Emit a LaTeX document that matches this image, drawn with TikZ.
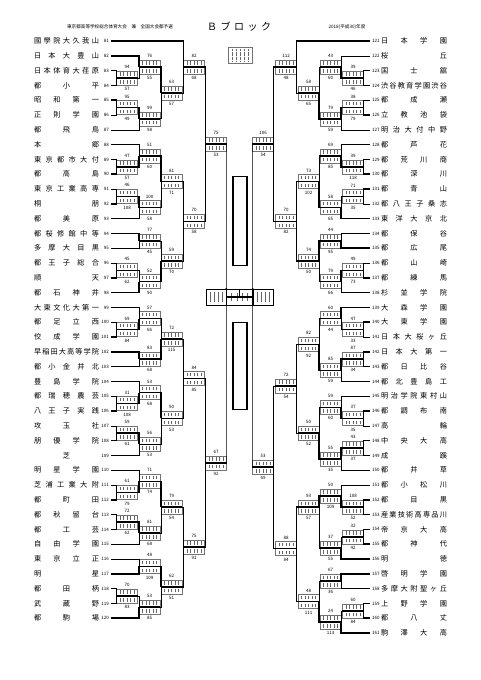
\documentclass[tikz,border=0pt]{standalone}
\usepackage{fontspec}
\setmainfont{Noto Sans CJK JP}
\usetikzlibrary{positioning,calc}

\makeatletter
\def\spreadname#1{\spr@#1\@nil}
\def\spr@#1#2\@nil{#1\ifx\relax#2\relax\else\hfil\spr@#2\@nil\fi}
\makeatother

\tikzset{
  team/.style={font=\fontsize{7.2}{8}\selectfont, inner sep=0pt},
  tnum/.style={font=\fontsize{4.5}{5}\selectfont, inner sep=0pt},
  score/.style={font=\fontsize{4.5}{5}\selectfont, inner sep=0pt},
  gbox/.style={draw=black!55, line width=.3pt, minimum width=21pt, minimum height=14pt, inner sep=0pt},
  tick/.style={black!60, line width=.3pt},
  lose/.style={line width=.5pt},
  win/.style={line width=1.6pt},
  ttl/.style={font=\fontsize{4.6}{5}\selectfont, inner sep=0pt},
  namebox/.style={draw, line width=1.1pt, minimum width=14pt, inner sep=0pt},
}

% one game: name, x, row, upper score, lower score
\newcommand{\game}[5]{%
  \node[gbox] (#1) at (#2,#3) {};
  \foreach \k in {1,...,5}{
    \draw[tick] ([xshift=\k*3.5pt, yshift=-1.5pt]#1.north west) -- ++(0,-3.5pt);
    \draw[tick] ([xshift=\k*3.5pt, yshift=1.5pt]#1.south west) -- ++(0,3.5pt);
  }
  \node[score, above=2pt of #1] (#1t) {#4};
  \node[score, below=2pt of #1] (#1b) {#5};
  \draw[win] (#1.west) -- (#1.east);
}

\begin{document}
\begin{tikzpicture}[x=1pt, y=-14.8pt]
  \useasboundingbox (0,-2.7703) rectangle (481,43.1757);

  % heading
  \node[ttl] (head) at (120,-0.95) {東京都高等学校総合体育大会　兼　全国大会都予選};
  \node[font=\fontsize{10}{10}\selectfont, inner sep=0pt] (block) at (239,-0.95)
    {\makebox[64pt][s]{Ｂ\hfil ブ\hfil ロ\hfil ッ\hfil ク}};
  \node[ttl] (year) at (347,-0.95) {2018(平成30)年度};

  % left teams
  \foreach \nm [count=\i from 0, evaluate=\i as \no using int(81+\i)] in {
    國學院大久我山,日本大豊山,日本体育大荏原,都小平,昭和第一,正則学園,都飛鳥,本郷,
    東京都市大付,都高島,東京工業高専,桐朋,都美原,都桜修館中等,多摩大目黒,都王子総合,
    順天,都石神井,大東文化大第一,都足立西,佼成学園,早稲田大高等学院,都小金井北,豊島学院,
    都瑞穂農芸,八王子実践,攻玉社,朋優学院,\hfil 芝\hfil,明星学園,芝浦工業大附,都町田,
    都秋留台,都工芸,自由学園,東京立正,明星,都田柄,武蔵野,都駒場}{
    \node[team] (n\no) at (66.5,\i) {\makebox[65pt][s]{\expandafter\spreadname\expandafter{\nm}}};
    \node[tnum, anchor=east] (k\no) at (109,\i) {\no};
    \coordinate (t\no) at (111,\i);
  }

  % right teams
  \foreach \nm [count=\i from 0, evaluate=\i as \no using int(121+\i)] in {
    日本学園,桜丘,国士舘,渋谷教育学園渋谷,都成瀬,立教池袋,明治大付中野,都芦花,
    都荒川商,都深川,都青山,都八王子桑志,東洋大京北,都保谷,都広尾,都山崎,
    都練馬,杉並学院,大森学園,大東学園,日本大桜ヶ丘,日本大第一,都日比谷,都北豊島工,
    明治学院東村山,都調布南,高輪,中央大高,成蹊,都井草,都小松川,都目黒,
    産業技術高専品川,帝京大高,都神代,明徳,啓明学園,多摩大附聖ヶ丘,上野学園,都八丈,駒澤大高}{
    \node[team] (n\no) at (414,\i) {\makebox[66pt][s]{\expandafter\spreadname\expandafter{\nm}}};
    \node[tnum, anchor=west] (k\no) at (372,\i) {\no};
    \coordinate (t\no) at (370,\i);
  }

  % left games
  \foreach \g/\x/\r/\u/\d in {
      gA/127/2.5/94/57, gB/149.5/1.75/76/55, gC/127/4.5/95/49, gD/149.5/5.25/99/98,
      gE/171.5/3.5/63/57, gF/194/1.75/82/68, gG/127/8.5/47/57, gH/149.5/7.75/51/60,
      gI/127/10.5/46/108, gJ/149.5/11.25/100/58, gK/171.5/9.5/81/71, gN/149.5/13.5/77/45,
      gO/127/15.5/45/62, gP/149.5/16.25/52/90, gQ/171.5/14.875/59/70, gL/194/12.1875/70/58,
      gM/216/6.96875/75/53,
      g1/127/19.5/69/84, g2/149.5/18.75/57/66, g3/149.5/21.5/83/68, g4/171.5/20.125/72/115,
      g5/127/24.5/31/108, g6/149.5/23.75/53/68, g7/127/26.5/59/61, g8/149.5/27.25/56/53,
      g9/171.5/25.5/90/53, g10/194/22.8125/84/85, g12/127/30.5/61/79, g11/149.5/29.75/71/74,
      g13/127/32.5/72/62, g14/149.5/33.25/81/68, g15/171.5/31.5/79/54, g16/149.5/35.5/48/109,
      g17/127/37.5/70/83, g18/149.5/38.25/53/85, g19/171.5/36.875/62/51, g20/194/34.1875/75/91,
      g21/216/28.5/67/92}
    \game{\g}{\x}{\r}{\u}{\d};

  \foreach \a/\b/\s in {t83/gA/win, t84/gA/lose, t82/gB/win, gA.east/gB/lose,
      t85/gC/win, t86/gC/lose, gC.east/gD/win, t87/gD/lose, gB.east/gE/win, gD.east/gE/lose,
      t81/gF/win, gE.east/gF/lose, t89/gG/lose, t90/gG/win, t88/gH/lose, gG.east/gH/win,
      t91/gI/lose, t92/gI/win, gI.east/gJ/win, t93/gJ/lose, gH.east/gK/win, gJ.east/gK/lose,
      t94/gN/win, t95/gN/lose, t96/gO/lose, t97/gO/win, gO.east/gP/lose, t98/gP/win,
      gN.east/gQ/lose, gP.east/gQ/win, gK.east/gL/win, gQ.east/gL/lose,
      gF.east/gM/win, gL.east/gM/lose,
      t100/g1/lose, t101/g1/win, t99/g2/lose, g1.east/g2/win, t102/g3/win, t103/g3/lose,
      g2.east/g4/lose, g3.east/g4/win, t105/g5/lose, t106/g5/win, t104/g6/lose, g5.east/g6/win,
      t107/g7/lose, t108/g7/win, g7.east/g8/win, t109/g8/lose, g6.east/g9/win, g8.east/g9/lose,
      g4.east/g10/lose, g9.east/g10/win, t111/g12/lose, t112/g12/win, t110/g11/lose, g12.east/g11/win,
      t113/g13/win, t114/g13/lose, g13.east/g14/win, t115/g14/lose, g11.east/g15/win, g14.east/g15/lose,
      t116/g16/lose, t117/g16/win, t118/g17/lose, t119/g17/win, g17.east/g18/lose, t120/g18/win,
      g16.east/g19/win, g18.east/g19/lose, g15.east/g20/lose, g19.east/g20/win,
      g10.east/g21/lose, g20.east/g21/win}
    \draw[\s] (\a) -| (\b.west);

  % right games
  \foreach \g/\x/\r/\u/\d in {
      hA/353/2.5/39/46, hB/330.5/1.75/43/60, hC/353/4.5/38/79, hD/330.5/5.25/79/59,
      hE/308.5/3.5/58/65, hF/286/1.75/112/48, hG/353/8.5/39/118, hH/330.5/7.75/69/85,
      hI/353/10.5/71/35, hJ/330.5/11.25/58/65, hK/308.5/9.5/73/102, hN/330.5/13.5/44/95,
      hO/353/15.5/49/73, hP/330.5/16.25/79/66, hQ/308.5/14.875/74/50, hL/286/12.1875/70/82,
      hM/263/6.96875/106/54,
      h1/353/19.5/47/33, h2/330.5/18.75/60/44, h3/353/21.5/87/34, h4/330.5/22.25/85/59,
      h5/308.5/20.5/82/92, h6/353/25.5/37/35, h7/330.5/24.75/59/60, h8/353/27.5/43/37,
      h9/330.5/28.25/55/35, h10/308.5/26.5/50/52, h11/286/23.3/72/54, h12/353/31.5/108/52,
      h13/330.5/30.75/50/109, h14/353/33.5/32/42, h15/330.5/34.25/37/55, h16/308.5/31.5/93/57,
      h17/330.5/36.5/67/36, h18/353/38.5/60/84, h19/330.5/39.25/24/113, h20/308.5/37.875/48/111,
      h21/286/34.3/88/84, h22/263/28.8/53/69}
    \game{\g}{\x}{\r}{\u}{\d};

  \foreach \a/\b/\s in {t123/hA/lose, t124/hA/win, t122/hB/lose, hA.west/hB/win,
      t125/hC/lose, t126/hC/win, hC.west/hD/win, t127/hD/lose, hB.west/hE/lose, hD.west/hE/win,
      t121/hF/win, hE.west/hF/lose, t129/hG/lose, t130/hG/win, t128/hH/lose, hG.west/hH/win,
      t131/hI/win, t132/hI/lose, hI.west/hJ/lose, t133/hJ/win, hH.west/hK/lose, hJ.west/hK/win,
      t134/hN/lose, t135/hN/win, t136/hO/lose, t137/hO/win, hO.west/hP/win, t138/hP/lose,
      hN.west/hQ/win, hP.west/hQ/lose, hK.west/hL/lose, hQ.west/hL/win,
      hF.west/hM/win, hL.west/hM/lose,
      t140/h1/win, t141/h1/lose, t139/h2/win, h1.west/h2/lose, t142/h3/win, t143/h3/lose,
      h3.west/h4/win, t144/h4/lose, h2.west/h5/lose, h4.west/h5/win,
      t146/h6/win, t147/h6/lose, t145/h7/lose, h6.west/h7/win, t148/h8/win, t149/h8/lose,
      h8.west/h9/win, t150/h9/lose, h7.west/h10/lose, h9.west/h10/win,
      h5.west/h11/win, h10.west/h11/lose,
      t152/h12/win, t153/h12/lose, t151/h13/lose, h12.west/h13/win,
      t154/h14/lose, t155/h14/win, h14.west/h15/lose, t156/h15/win,
      h13.west/h16/win, h15.west/h16/lose, t157/h17/win, t158/h17/lose,
      t159/h18/lose, t160/h18/win, h18.west/h19/lose, t161/h19/win,
      h17.west/h20/lose, h19.west/h20/win, h16.west/h21/win, h20.west/h21/lose,
      h11.west/h22/lose, h21.west/h22/win}
    \draw[\s] (\a) -| (\b.east);

  % centre
  \node[draw, line width=.3pt, minimum width=26pt, minimum height=16pt, inner sep=0pt] (fin) at (239.5,17.3) {};
  \node[draw, line width=.3pt, minimum width=20pt, minimum height=16pt, inner sep=0pt, left=0pt of fin] (finl) {};
  \node[draw, line width=.3pt, minimum width=20pt, minimum height=16pt, inner sep=0pt, right=0pt of fin] (finr) {};
  \foreach \k in {1,...,4}{
    \draw[tick] ([xshift=\k*4pt, yshift=-3pt]finl.north west) -- ++(0,-10pt);
    \draw[tick] ([xshift=\k*4pt, yshift=-3pt]finr.north west) -- ++(0,-10pt);
    \draw[tick] ([xshift=\k*5.2pt, yshift=-4pt]fin.north west) -- ++(0,-8pt);
  }
  \draw[win] (fin.west) -- (fin.east);
  \draw[lose] (fin.center) -- ++(0,7pt);
  \draw[lose] (gM.east) -- (fin.north west);
  \draw[lose] (g21.east) -- (fin.south west);
  \draw[lose] (hM.west) -- (fin.north east);
  \draw[lose] (h22.west) -- (fin.south east);
  \foreach \c in {north west, south west, north east, south east}
    \fill (fin.\c) circle (1pt);
  \node[namebox, minimum height=89pt] (wup) at (240,12.16) {};
  \node[namebox, minimum height=87pt] (wdn) at (240,21.96) {};

  % legend box at the top
  \node[gbox, minimum width=24pt, minimum height=16pt] (leg) at (240,0.95) {};
  \foreach \k in {1,...,5}
    \draw[tick, densely dotted] ([xshift=\k*4pt, yshift=-2pt]leg.north west) -- ++(0,-12pt);
\end{tikzpicture}
\end{document}
